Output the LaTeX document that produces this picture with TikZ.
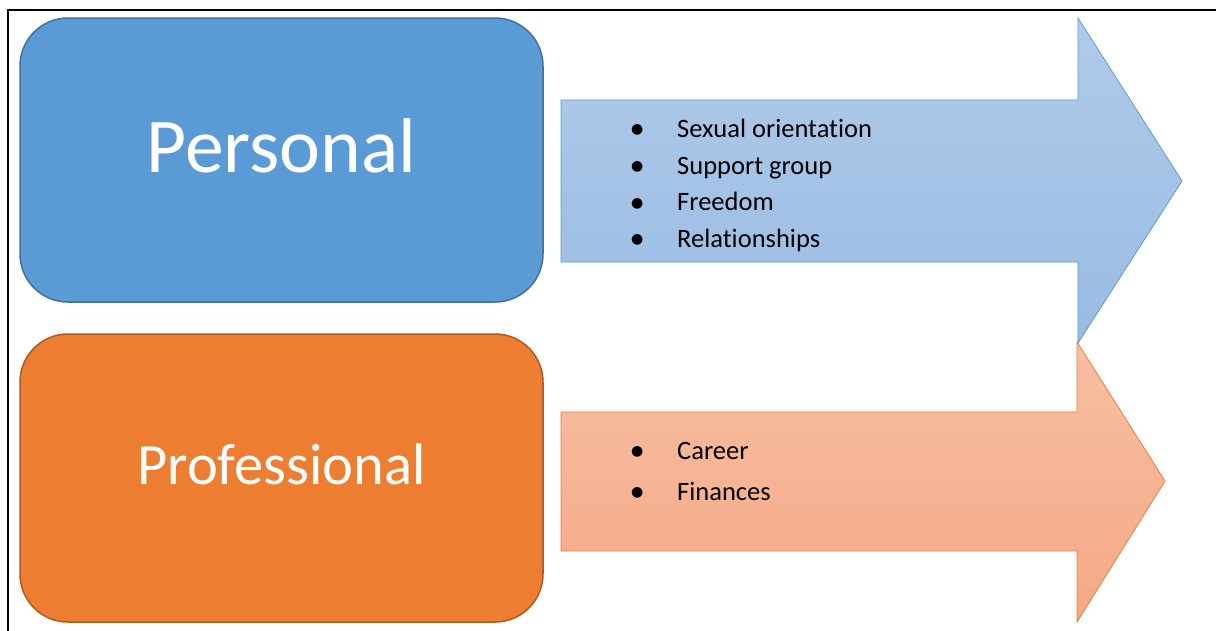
\documentclass[tikz,border=0pt]{standalone}
\usepackage{fontspec}
\setmainfont{Carlito}[Ligatures=NoCommon]
\newfontfamily\dejavu{DejaVu Sans}
\definecolor{pbfill}{HTML}{5B9BD5}
\definecolor{pbdraw}{HTML}{41719C}
\definecolor{patop}{HTML}{B1CBE9}
\definecolor{pabot}{HTML}{99BBE3}
\definecolor{padraw}{HTML}{5B9BD5}
\definecolor{obfill}{HTML}{ED7D31}
\definecolor{obdraw}{HTML}{AE5A21}
\definecolor{oatop}{HTML}{F7BFA3}
\definecolor{oabot}{HTML}{F4A985}
\definecolor{oadraw}{HTML}{ED7D31}
\newcommand{\bulitem}{\makebox[46pt][l]{\raisebox{3.5pt}{\dejavu\fontsize{14}{14}\selectfont ●}}}
\begin{document}
\begin{tikzpicture}[x=1pt,y=-1pt,
  catbox/.style={rounded corners=48pt, line width=1.5pt, minimum width=523pt, inner sep=0pt},
  cattext/.style={text=white, anchor=base, inner sep=0pt},
  itemtext/.style={anchor=base west, inner sep=0pt, font=\fontsize{26.5}{30}\selectfont},
  bigarrow/.style={line width=0.8pt}]
\useasboundingbox (0,0) rectangle (1216,630);
\fill[white] (0,0) rectangle (1216,630);
% frame
\draw[line width=2pt, black] (8,640) -- (8,10) -- (1226,10);
% boxes
\node[catbox, fill=pbfill, draw=pbdraw, minimum height=284pt] (pbox) at (281.5,160) {};
\node[catbox, fill=obfill, draw=obdraw, minimum height=288pt] (obox) at (281.5,478) {};
\node[cattext, font=\fontsize{77.5}{80}\selectfont] (ptext) at (281.5,172) {Personal};
\node[cattext, font=\fontsize{58.5}{62}\selectfont] (otext) at (281.5,484) {Professional};
% arrows
\path[bigarrow, top color=oatop, bottom color=oabot, draw=oadraw]
  (561,412) -- (1077,412) -- (1077,342) -- (1165,481) -- (1077,622) -- (1077,551) -- (561,551) -- cycle;
\path[bigarrow, top color=patop, bottom color=pabot, draw=padraw]
  (561,100) -- (1078,100) -- (1078,18) -- (1182,181) -- (1078,343) -- (1078,262) -- (561,262) -- cycle;
% items
\node[itemtext] (p1) at (631,137) {\bulitem Sexual orientation};
\node[itemtext] (p2) at (631,174) {\bulitem Support group};
\node[itemtext] (p3) at (631,210.5) {\bulitem Freedom};
\node[itemtext] (p4) at (631,247) {\bulitem Relationships};
\node[itemtext] (o1) at (631,459) {\bulitem Career};
\node[itemtext] (o2) at (631,500) {\bulitem Finances};
\end{tikzpicture}
\end{document}
